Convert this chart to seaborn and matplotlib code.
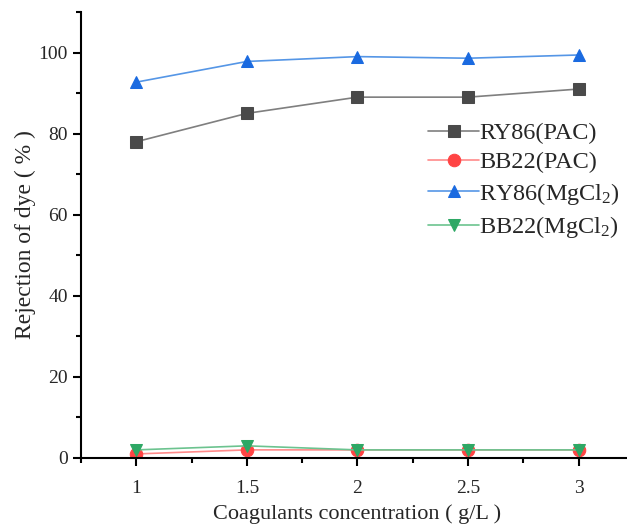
import numpy as np
import pandas as pd
import matplotlib
matplotlib.use("Agg")
import matplotlib.pyplot as plt
from matplotlib.ticker import MultipleLocator
import seaborn as sns

# data
concentration = [1, 1.5, 2, 2.5, 3]
ry86_pac = [78, 85, 89, 89, 91]
bb22_pac = [1, 2, 2, 2, 2]
ry86_mgcl2 = [92.7, 97.8, 99.0, 98.6, 99.4]
bb22_mgcl2 = [2, 3, 2, 2, 2]

series_names = ["RY86(PAC)", "BB22(PAC)", "RY86(MgCl$_2$)", "BB22(MgCl$_2$)"]
series_values = [ry86_pac, bb22_pac, ry86_mgcl2, bb22_mgcl2]

sns.set_style("ticks")
plt.rcParams['font.family'] = ['Liberation Serif', 'DejaVu Serif']
plt.rcParams['mathtext.fontset'] = 'custom'
plt.rcParams['mathtext.rm'] = 'Liberation Serif'
plt.rcParams['mathtext.it'] = 'Liberation Serif:italic'

line_colors = ["#7f7f7f", "#ff8a8a", "#5596e6", "#6cc38f"]
marker_colors = ["#4a4a4a", "#ff4444", "#1a6ae0", "#2ea865"]
markers = ["s", "o", "^", "v"]

df = pd.DataFrame({
    "conc": concentration * 4,
    "value": sum(series_values, []),
    "series": np.repeat(series_names, len(concentration)),
})

fig = plt.figure(figsize=(6.27, 5.29), dpi=100)
ax = fig.add_axes([81 / 627, 1 - 458 / 529, 553 / 627, 446 / 529])

for name, lc, mc, mk in zip(series_names, line_colors, marker_colors, markers):
    sns.lineplot(data=df[df.series == name], x="conc", y="value", ax=ax,
                 color=lc, marker=mk, markersize=9, markerfacecolor=mc,
                 markeredgecolor=mc, linewidth=1.2, label=name)

ax.set_xlim(0.75, 3.25)
ax.set_ylim(0, 110)
ax.set_xticks(concentration)
ax.set_xticklabels(["1", "1.5", "2", "2.5", "3"])
ax.set_yticks([0, 20, 40, 60, 80, 100])
ax.xaxis.set_minor_locator(MultipleLocator(0.25))
ax.yaxis.set_minor_locator(MultipleLocator(10))
ax.tick_params(which='major', length=6, width=1.5, labelsize=14, direction='out', color='black')
ax.tick_params(which='minor', length=3.5, width=1.5, direction='out', color='black')
ax.tick_params(axis='x', which='major', pad=10)
for side in ["left", "bottom"]:
    ax.spines[side].set_linewidth(1.5)
    ax.spines[side].set_color("black")
sns.despine(ax=ax)

ax.set_xlabel("Coagulants concentration ( g/L )", fontsize=16, labelpad=5)
ax.set_ylabel("Rejection of dye ( % )", fontsize=17, labelpad=2)

ax.legend(loc="upper left", bbox_to_anchor=(347 / 553, 0.753), frameon=False,
          fontsize=17.5, handlelength=2.1, handletextpad=0.0, labelspacing=0.3,
          borderaxespad=0, borderpad=0)

fig.savefig("out.png", dpi=100)
